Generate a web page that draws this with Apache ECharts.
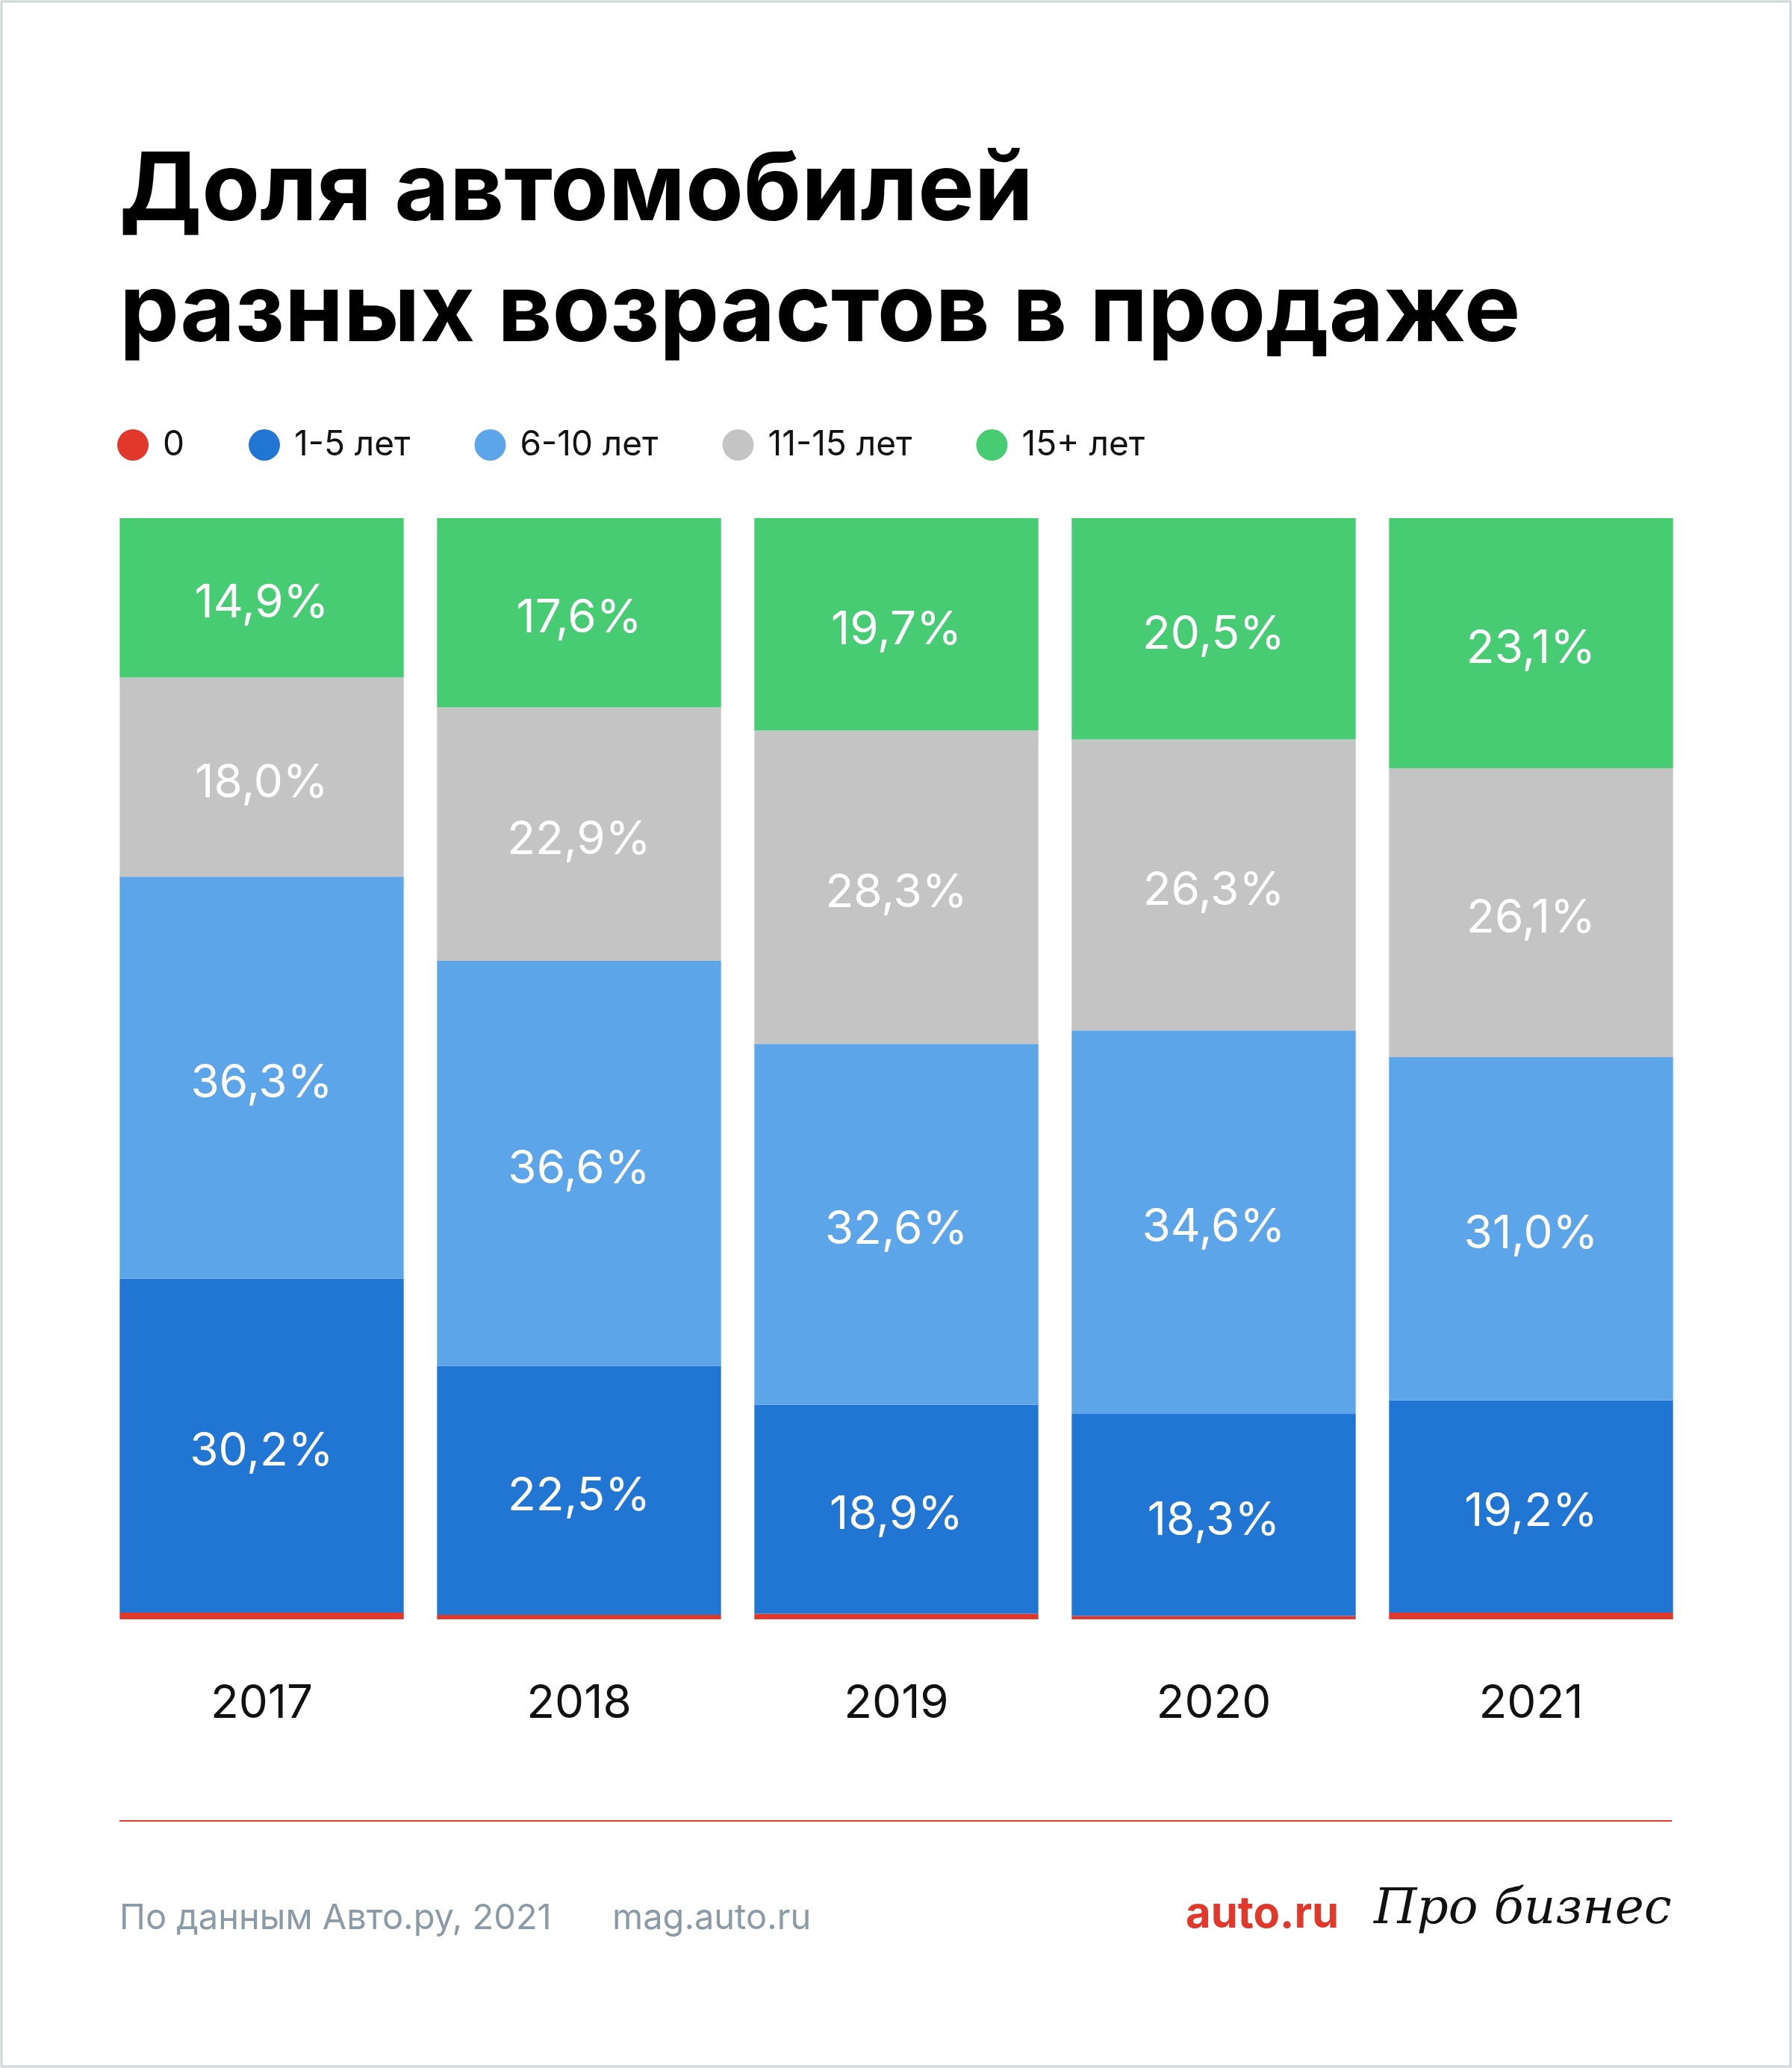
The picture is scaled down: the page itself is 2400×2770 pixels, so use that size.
<!DOCTYPE html>
<html><head><meta charset="utf-8">
<script src="https://cdn.jsdelivr.net/npm/echarts@6/dist/echarts.min.js"></script>
<style>html,body{margin:0;padding:0;background:#fff}#c{width:2400px;height:2770px}</style>
</head><body><div id="c"></div>
<script>
const years = ['2017','2018','2019','2020','2021'];
const s0 = [0.6, 0.4, 0.5, 0.3, 0.6];
const s1_5 = [30.2, 22.5, 18.9, 18.3, 19.2];
const s6_10 = [36.3, 36.6, 32.6, 34.6, 31.0];
const s11_15 = [18.0, 22.9, 28.3, 26.3, 26.1];
const s15p = [14.9, 17.6, 19.7, 20.5, 23.1];
const names = ['0','1-5 лет','6-10 лет','11-15 лет','15+ лет'];
const colors = ['#e0392b','#2276d3','#5ca5e8','#c4c4c4','#47cc73'];
const font = 'Inter, "Noto Sans", sans-serif';
const fmt = p => p.value.toFixed(1).replace('.', ',') + '%';
function ser(name, data, i){
  return {name, type:'bar', stack:'a', data, barCategoryGap:'10.5%', itemStyle:{color:colors[i]},
    label:{show:i>0, position:'inside', color:'#fff', fontSize:62, fontFamily:font, formatter:fmt, offset:[0,8]}};
}
const chart = echarts.init(document.getElementById('c'));
chart.setOption({
  animation:false, backgroundColor:'#fff',
  grid:{left:138, right:137, top:694, bottom:2770-2169},
  legend:{left:152, top:568, icon:'circle', itemWidth:42, itemHeight:42, itemGap:86,
    textStyle:{fontSize:46, fontFamily:font, color:'#111', padding:[0,0,0,14]}, data:names},
  xAxis:{type:'category', data:years, axisLine:{show:false}, axisTick:{show:false},
    axisLabel:{fontSize:62, fontFamily:font, color:'#111', margin:82}},
  yAxis:{type:'value', min:0, max:99.5, show:false},
  series:[ser(names[0],s0,0),ser(names[1],s1_5,1),ser(names[2],s6_10,2),ser(names[3],s11_15,3),ser(names[4],s15p,4)],
  graphic:[
    {type:'rect', shape:{x:2,y:2,width:2396,height:2766}, style:{fill:'none', stroke:'#cfd6d6', lineWidth:3}},
    {type:'text', left:160, top:176, style:{text:'Доля автомобилей\nразных возрастов в продаже', font:'bold 127px '+font, fill:'#000', lineHeight:162}},
    {type:'rect', shape:{x:160,y:2438,width:2079,height:2}, style:{fill:'#e0392b'}},
    {type:'text', left:160, top:2546, style:{text:'По данным Авто.ру, 2021', font:'47px '+font, fill:'#8a9aa6'}},
    {type:'text', left:820, top:2546, style:{text:'mag.auto.ru', font:'47px '+font, fill:'#8a9aa6'}},
    {type:'text', left:1588, top:2536, style:{text:'auto.ru', font:'bold 58px '+font, fill:'#e0392b'}},
    {type:'text', left:1840, top:2526, style:{text:'Про бизнес', font:'italic 66px "DejaVu Serif", serif', fill:'#111'}}
  ]
});
</script></body></html>
